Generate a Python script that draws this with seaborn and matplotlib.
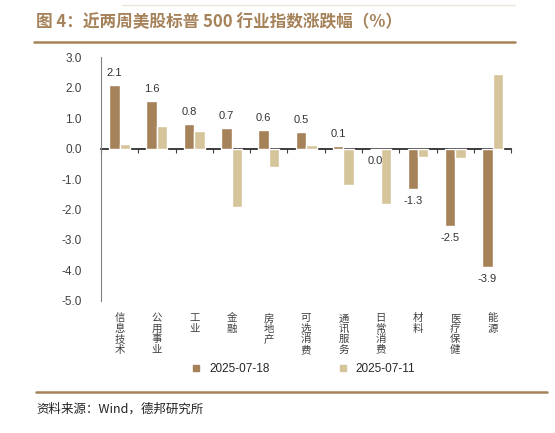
import pandas as pd
import matplotlib
matplotlib.use('Agg')
from matplotlib import pyplot as plt
from matplotlib.lines import Line2D
import seaborn as sns

# 数据
categories = ['信息技术', '公用事业', '工业', '金融', '房地产', '可选消费',
              '通讯服务', '日常消费', '材料', '医疗保健', '能源']
series_names = ['2025-07-18', '2025-07-11']
vals_0718 = [2.08, 1.55, 0.81, 0.67, 0.62, 0.53, 0.08, -0.02, -1.34, -2.55, -3.88]
vals_0711 = [0.15, 0.74, 0.57, -1.93, -0.59, 0.11, -1.18, -1.81, -0.27, -0.30, 2.46]
y_ticks = [3.0, 2.0, 1.0, 0.0, -1.0, -2.0, -3.0, -4.0, -5.0]

dark = '#A6825A'
light = '#D6C49B'

sns.set_theme(style='white')
plt.rcParams['font.family'] = ['Noto Sans CJK SC', 'DejaVu Sans']
plt.rcParams['axes.unicode_minus'] = False

df = pd.DataFrame({
    'cat': categories * 2,
    'val': vals_0718 + vals_0711,
    'date': [series_names[0]] * len(categories) + [series_names[1]] * len(categories),
})

fig = plt.figure(figsize=(5.55, 4.33), dpi=100)
ax = fig.add_axes([0.182, 0.305, 0.739, 0.563])

sns.barplot(data=df, x='cat', y='val', hue='date', order=categories,
            hue_order=series_names, palette=[dark, light], width=0.56,
            gap=0, saturation=1, ax=ax, legend=False)

ymin, ymax = -5.0, 3.0
ax.set_ylim(ymin, ymax)
ax.set_xlim(-0.5, len(categories) - 0.5)
ax.set_yticks(y_ticks)
ax.set_yticklabels([f'{v:.1f}' for v in y_ticks], fontsize=8.5, color='#404040',
                   family='Liberation Sans')
ax.tick_params(axis='y', direction='in', length=3, color='#808080', pad=14)
ax.set_xlabel('')
ax.set_ylabel('')

# 横向标签竖排
ax.set_xticks(range(len(categories)))
ax.set_xticklabels(['\n'.join(c) for c in categories], fontsize=7.5,
                   color='#404040', linespacing=1.05, va='top')
ax.tick_params(axis='x', length=0, pad=9)

for s in ['top', 'right', 'bottom']:
    ax.spines[s].set_visible(False)
ax.spines['left'].set_color('#808080')
ax.spines['left'].set_linewidth(0.8)

# 零轴
zero_pos = (0 - ymin) / (ymax - ymin)
sec = ax.secondary_xaxis(zero_pos)
sec.set_xticks([i - 0.5 for i in range(len(categories) + 1)])
sec.set_xticklabels([])
sec.tick_params(direction='in', length=3, color='#404040', width=0.8)
sec.spines['bottom'].set_color('#404040')
sec.spines['bottom'].set_linewidth(0.9)

# 数据标签
bar_labels = [f'{v:.1f}'.replace('-0.0', '0.0') for v in vals_0718]
ax.bar_label(ax.containers[0], labels=bar_labels, padding=5, fontsize=8,
             color='#333333', family='Liberation Sans')

# 图例
handles = [Line2D([], [], marker='s', linestyle='', color=c, markersize=5)
           for c in [dark, light]]
fig.legend(handles, series_names, loc='center', bbox_to_anchor=(0.54, 0.148),
           ncol=2, frameon=False, handletextpad=0.1, columnspacing=5.2,
           prop={'family': 'Liberation Sans', 'size': 8.5})

# 标题与来源
fig.text(0.065, 0.949, '图 4：近两周美股标普 500 行业指数涨跌幅（%）', fontsize=12,
         fontweight='bold', color='#A6825A', va='center', ha='left')
fig.add_artist(Line2D([0.061, 0.928], [0.903, 0.903], color='#A6825A', lw=1.8))
fig.add_artist(Line2D([0.22, 0.928], [0.988, 0.988], color='#EFE6DA', lw=1.0))
fig.add_artist(Line2D([0.065, 0.986], [0.095, 0.095], color='#A6825A', lw=1.8))
fig.text(0.065, 0.055, '资料来源：Wind，德邦研究所', fontsize=9, color='#222222',
         va='center', ha='left')

fig.savefig('out.png', dpi=100)
